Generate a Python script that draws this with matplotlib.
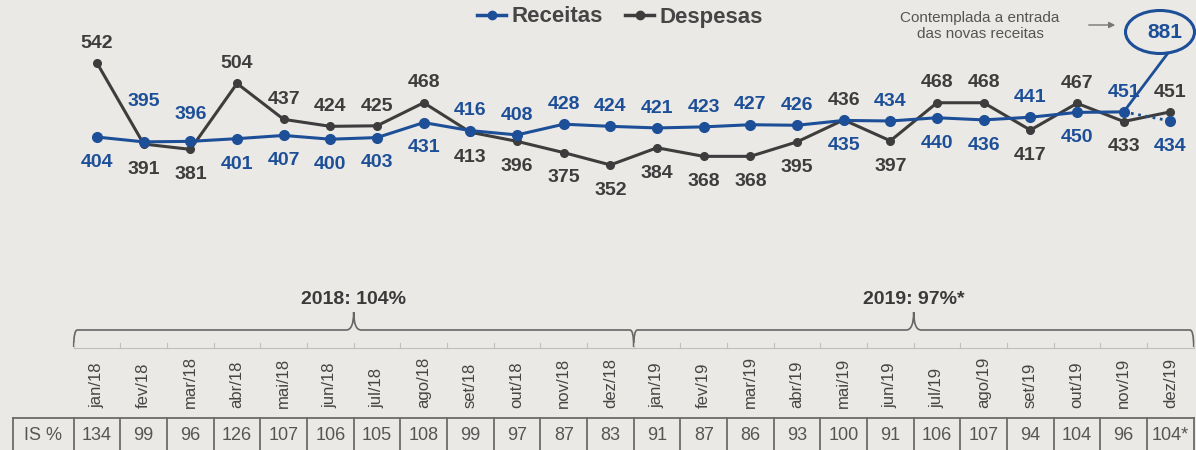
import matplotlib
matplotlib.use("Agg")
import matplotlib.pyplot as plt
from matplotlib.lines import Line2D
from matplotlib.path import Path
from matplotlib.patches import PathPatch, Ellipse

plt.rcParams['font.family'] = ['Liberation Sans', 'DejaVu Sans']

# ---------------- data ----------------
meses = ["jan/18", "fev/18", "mar/18", "abr/18", "mai/18", "jun/18",
         "jul/18", "ago/18", "set/18", "out/18", "nov/18", "dez/18",
         "jan/19", "fev/19", "mar/19", "abr/19", "mai/19", "jun/19",
         "jul/19", "ago/19", "set/19", "out/19", "nov/19", "dez/19"]
receitas = [404, 395, 396, 401, 407, 400, 403, 431, 416, 408, 428, 424,
            421, 423, 427, 426, 435, 434, 440, 436, 441, 450, 451, 434]
despesas = [542, 391, 381, 504, 437, 424, 425, 468, 413, 396, 375, 352,
            384, 368, 368, 395, 436, 397, 468, 468, 417, 467, 433, 451]
receitas_dez19_com_novas = 881
is_pct = ["134", "99", "96", "126", "107", "106", "105", "108", "99", "97", "87", "83",
          "91", "87", "86", "93", "100", "91", "106", "107", "94", "104", "96", "104*"]
anos = ["2018: 104%", "2019: 97%*"]
nota = "Contemplada a entrada\ndas novas receitas"

# ---------------- style ----------------
BG = '#ebe9e5'
BLUE = '#1d4f98'
GRAY = '#3d3d3d'
TXT = '#454545'
W, H = 1196, 450

fig = plt.figure(figsize=(W / 100, H / 100), dpi=100, facecolor=BG)

# main chart axes (covers top 300 px)
ax = fig.add_axes([73.7 / W, 150 / H, 1120 / W, 300 / H])
ax.set_xlim(-0.5, 23.5)
ax.set_ylim(100, 659.7)
ax.set_axis_off()

x = list(range(len(meses)))
n = len(meses)

ax.plot(x, despesas, color=GRAY, lw=2.2, marker='o', ms=5.5, zorder=3)
ax.plot(x[:n - 1], receitas[:n - 1], color=BLUE, lw=2.2, marker='o', ms=7, zorder=4)
ax.plot(x[n - 2:], receitas[n - 2:], color=BLUE, lw=2, ls=':', zorder=4)
ax.plot(x[n - 1:], receitas[n - 1:], color=BLUE, lw=0, marker='o', ms=7, zorder=4)

nudge = {('r', 1): 15, ('r', 2): 5}
for i in x:
    r, d = receitas[i], despesas[i]
    for key, val, col, other in (('r', r, BLUE, d), ('d', d, GRAY, r)):
        up = val > other
        off = (11 if up else -21.5) + nudge.get((key, i), 0)
        ax.annotate(str(val), (i, val), xytext=(0, off), textcoords='offset points',
                    ha='center', va='baseline', fontsize=14, fontweight='bold',
                    color=col, zorder=5)

# connector to the 881 bubble
ax.annotate('', xy=(1168 / W, 1 - 53 / H), xycoords='figure fraction',
            xytext=(n - 2, receitas[n - 2]), textcoords='data',
            arrowprops=dict(arrowstyle='-', color=BLUE, lw=2, shrinkA=0, shrinkB=0))
fig.add_artist(Ellipse((1160 / W, 1 - 32 / H), 69 / W, 43 / H, transform=fig.transFigure,
                       facecolor='none', edgecolor=BLUE, lw=2.2))
fig.text(1165 / W, 1 - 33 / H, str(receitas_dez19_com_novas), ha='center', va='center',
         fontsize=15, fontweight='bold', color=BLUE)

fig.text(980 / W, 1 - 26 / H, nota, ha='center', va='center', fontsize=11,
         color='#555555', linespacing=1.15)
fig.add_artist(matplotlib.patches.FancyArrowPatch((1086 / W, 1 - 25 / H), (1118 / W, 1 - 25 / H),
                                                  transform=fig.transFigure, arrowstyle='-|>',
                                                  mutation_scale=9, color='#777777', lw=1))

# legend
handles = [Line2D([], [], color=BLUE, lw=2.5, marker='o', ms=6),
           Line2D([], [], color=GRAY, lw=2.5, marker='o', ms=6)]
leg = fig.legend(handles, ["Receitas", "Despesas"], loc='center',
                 bbox_to_anchor=(620 / W, 1 - 17 / H), ncol=2, frameon=False,
                 prop=dict(size=16, weight='bold'), labelcolor=TXT,
                 handlelength=1.3, handletextpad=0.25, columnspacing=1.0)

# ---------------- bottom part (brackets, months, table) ----------------
axb = fig.add_axes([73.7 / W, 0, 1120 / W, 150 / H])
axb.set_xlim(-0.5, 23.5)
axb.set_ylim(450, 300)
axb.set_axis_off()


def brace(x0, x1, yb=347, ybar=330, ytip=312, dx=0.08):
    c = (x0 + x1) / 2
    verts = [(x0, yb), (x0, ybar), (x0 + dx, ybar),
             (c - 2 * dx, ybar), (c, ybar), (c, ytip),
             (c, ybar), (c + 2 * dx, ybar),
             (x1 - dx, ybar), (x1, ybar), (x1, yb)]
    codes = [Path.MOVETO, Path.CURVE3, Path.CURVE3,
             Path.LINETO, Path.CURVE3, Path.CURVE3,
             Path.CURVE3, Path.CURVE3,
             Path.LINETO, Path.CURVE3, Path.CURVE3]
    axb.add_patch(PathPatch(Path(verts, codes), facecolor='none', edgecolor='#666666',
                            lw=1.2, clip_on=False))
    return c


for k, lab in enumerate(anos):
    c = brace(-0.5 + 12 * k, 11.5 + 12 * k)
    axb.text(c, 300, lab, ha='center', va='center', fontsize=14, fontweight='bold',
             color='#3a3a3a')

# faint baseline with ticks
axb.plot([-0.5, 23.5], [348, 348], color='#c2c0bc', lw=0.8, clip_on=False)
for b in range(n + 1):
    axb.plot([b - 0.5, b - 0.5], [343, 348], color='#c2c0bc', lw=0.8, clip_on=False)

for i, m in enumerate(meses):
    axb.text(i, 408, m, rotation=90, ha='center', va='bottom', fontsize=12, color=TXT)

# table
left = -1.80
axb.plot([left, 23.5], [418, 418], color='#6b6b6b', lw=1.3, clip_on=False)
for b in [left] + [k - 0.5 for k in range(n + 1)]:
    axb.plot([b, b], [418, 455], color='#6b6b6b', lw=1.3, clip_on=False)
axb.text((left - 0.5) / 2, 436, "IS %", ha='center', va='center', fontsize=13, color='#555555')
for i, v in enumerate(is_pct):
    axb.text(i, 436, v, ha='center', va='center', fontsize=13, color='#555555')

fig.savefig("out.png", dpi=100, facecolor=BG)
